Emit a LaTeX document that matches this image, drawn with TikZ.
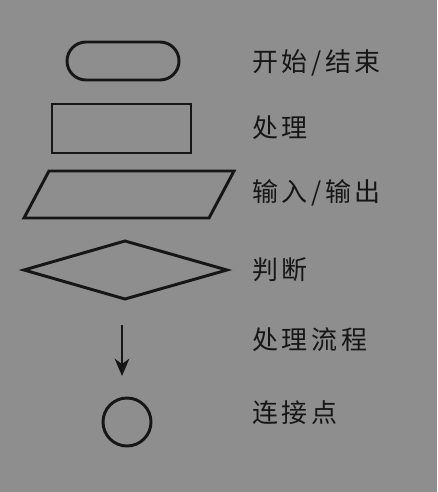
\documentclass[tikz,border=0pt]{standalone}
\usepackage{fontspec}
\newfontfamily\cjk[LetterSpace=14]{Noto Sans CJK SC}
\usetikzlibrary{arrows.meta}
\definecolor{bg}{RGB}{142,142,143}
\definecolor{ink}{RGB}{22,22,22}
\begin{document}
\begin{tikzpicture}[x=0.75pt,y=-0.75pt,
  shapeline/.style={draw=ink,line width=2.2pt,line join=miter},
  label/.style={anchor=west,inner sep=0pt,text=ink,font=\cjk\fontsize{19.5pt}{20pt}\selectfont}]
\fill[bg] (0,0) rectangle (437,492);
\useasboundingbox (0,0) rectangle (437,492);
% terminal
\draw[shapeline,rounded corners=19*0.75pt] (67,42) rectangle (179,80);
% process
\draw[shapeline] (52,104) rectangle (191,153);
% input/output
\draw[shapeline] (49,171) -- (234,171) -- (209,218) -- (24,218) -- cycle;
% decision
\draw[shapeline] (24,270) -- (125,241) -- (227,270) -- (125,299) -- cycle;
% flow arrow
\coordinate (a1) at (122,325);
\coordinate (a2) at (122,376);
\draw[draw=ink,line width=1.2pt,-{Stealth[length=13pt,width=11pt,inset=4pt]}] (a1) -- (a2);
% connector
\draw[shapeline] (127,422) circle [radius=24*0.75pt];
% labels
\node[label] (t1) at (252,63) {开始/结束};
\node[label] (t2) at (252,128) {处理};
\node[label] (t3) at (252,193) {输入/输出};
\node[label] (t4) at (252,270) {判断};
\node[label] (t5) at (252,340) {处理流程};
\node[label] (t6) at (252,413) {连接点};
\end{tikzpicture}
\end{document}
